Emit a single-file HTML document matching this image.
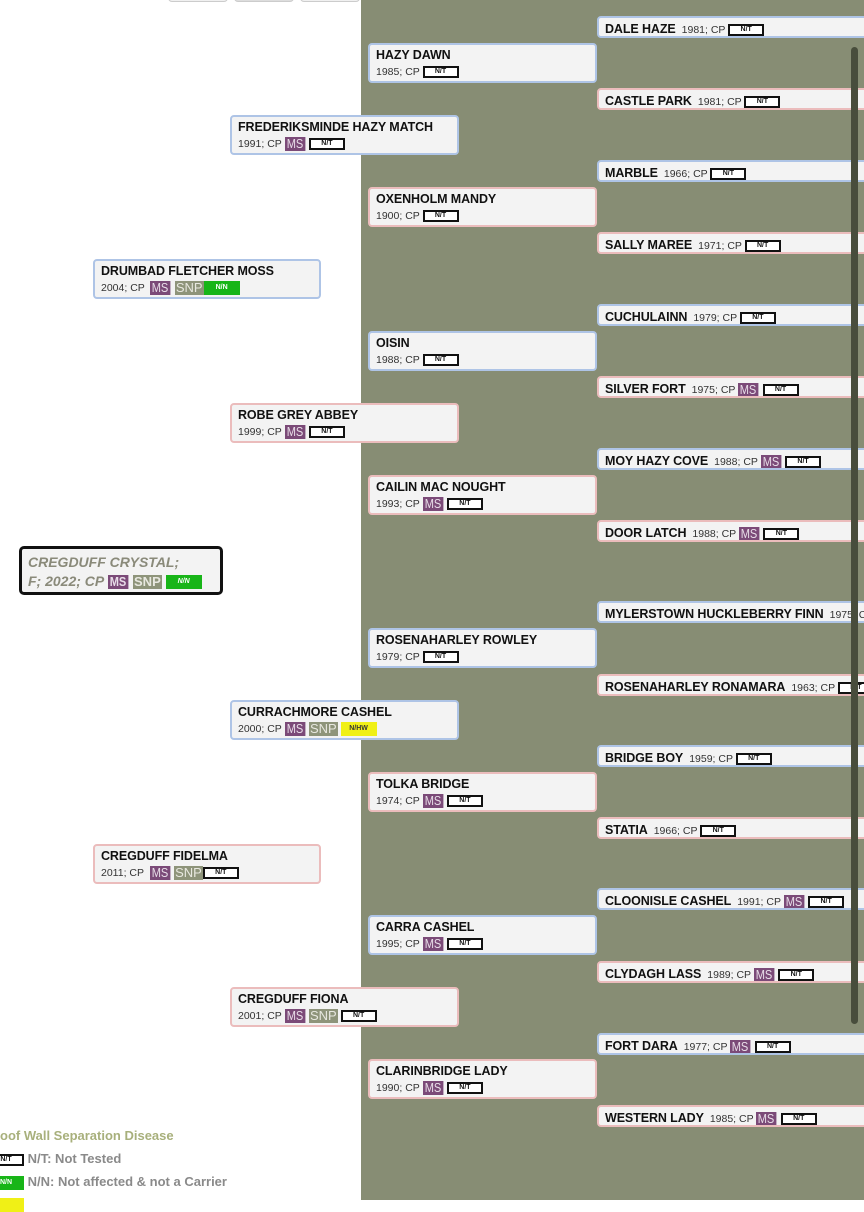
<!DOCTYPE html>
<html><head><meta charset="utf-8"><style>
*{box-sizing:border-box;margin:0;padding:0}
body{width:864px;height:1200px;overflow:hidden;background:#fff;position:relative;font-family:"Liberation Sans",sans-serif;color:#111}
#panel{position:absolute;left:361px;top:0;width:503px;height:1200px;background:#878d74}
.b{position:absolute;background:#f3f3f3;border:2px solid #aec4e6;border-radius:4px;padding:3px 0 0 6px;overflow:hidden;white-space:nowrap}
.f{border-color:#ebbcbc}
.b .n{font-weight:bold;font-size:12.5px;letter-spacing:-0.1px;display:block;line-height:15px}
.b .d{font-size:10.5px;color:#333;display:block;line-height:16px;margin-top:1px}
.s{height:22px;padding:2px 0 0 6px}
.s .n{display:inline;font-size:12.5px}
.s .d{display:inline;margin-left:6px}
.nt{display:inline-block;width:36px;height:12px;border:2px solid #111;background:#fff;font-size:7px;font-weight:bold;text-align:center;line-height:8px;vertical-align:middle;color:#111}
.ms{display:inline-block;background:#7b4a78;color:#e8dde8;font-size:13px;line-height:14px;padding:0 2px;vertical-align:middle;font-family:"Liberation Sans Narrow","Liberation Sans",sans-serif;transform:scaleX(.85);transform-origin:left;margin-right:-2px}
.snp{display:inline-block;background:#8e947a;color:#e8e8e0;font-size:13px;line-height:14px;padding:0 1px;vertical-align:middle;font-family:"Liberation Sans Narrow","Liberation Sans",sans-serif}
.nn{display:inline-block;width:36px;height:14px;background:#18b518;color:#fff;font-size:7px;font-weight:bold;text-align:center;line-height:14px;vertical-align:middle}
.hw{display:inline-block;width:36px;height:14px;background:#f0f016;color:#333;font-size:7px;font-weight:bold;text-align:center;line-height:14px;vertical-align:middle}
.btn{position:absolute;top:-8px;width:60px;height:10px;border:1px solid #ccc;border-radius:4px;background:#f0f0f0}
.leg{position:absolute;left:0;font-size:13px;color:#8a8a8a;font-weight:bold;white-space:nowrap}
</style></head><body>
<div id="panel"></div>
<div class="btn" style="left:168px"></div><div class="btn" style="left:234px;background:#ddd"></div><div class="btn" style="left:300px"></div>

<div class="b" style="left:19px;top:546px;width:204px;height:49px;border:3px solid #111;border-radius:5px;padding:4px 0 0 6px">
<span style="display:block;font-style:italic;font-weight:bold;color:#8a8a7a;font-size:14px;line-height:19px">CREGDUFF CRYSTAL;</span>
<span style="display:block;font-style:italic;font-weight:bold;color:#8a8a7a;font-size:14px;line-height:19px">F; 2022; CP <span class="ms" style="font-style:normal">MS</span> <span class="snp" style="font-style:normal">SNP</span> <span class="nn">N/N</span></span></div>

<div class="b" style="left:93px;top:259px;width:228px;height:40px"><span class="n">DRUMBAD FLETCHER MOSS</span><span class="d">2004; CP &nbsp;<span class="ms">MS</span> <span class="snp">SNP</span><span class="nn">N/N</span></span></div>
<div class="b f" style="left:93px;top:844px;width:228px;height:40px"><span class="n">CREGDUFF FIDELMA</span><span class="d">2011; CP &nbsp;<span class="ms">MS</span> <span class="snp">SNP</span><span class="nt">N/T</span></span></div>

<div class="b" style="left:230px;top:115px;width:229px;height:40px"><span class="n">FREDERIKSMINDE HAZY MATCH</span><span class="d">1991; CP <span class="ms">MS</span> <span class="nt">N/T</span></span></div>
<div class="b f" style="left:230px;top:403px;width:229px;height:40px"><span class="n">ROBE GREY ABBEY</span><span class="d">1999; CP <span class="ms">MS</span> <span class="nt">N/T</span></span></div>
<div class="b" style="left:230px;top:700px;width:229px;height:40px"><span class="n">CURRACHMORE CASHEL</span><span class="d">2000; CP <span class="ms">MS</span> <span class="snp">SNP</span> <span class="hw">N/HW</span></span></div>
<div class="b f" style="left:230px;top:987px;width:229px;height:40px"><span class="n">CREGDUFF FIONA</span><span class="d">2001; CP <span class="ms">MS</span> <span class="snp">SNP</span> <span class="nt">N/T</span></span></div>

<div class="b" style="left:368px;top:43px;width:229px;height:40px"><span class="n">HAZY DAWN</span><span class="d">1985; CP <span class="nt">N/T</span></span></div>
<div class="b f" style="left:368px;top:187px;width:229px;height:40px"><span class="n">OXENHOLM MANDY</span><span class="d">1900; CP <span class="nt">N/T</span></span></div>
<div class="b" style="left:368px;top:331px;width:229px;height:40px"><span class="n">OISIN</span><span class="d">1988; CP <span class="nt">N/T</span></span></div>
<div class="b f" style="left:368px;top:475px;width:229px;height:40px"><span class="n">CAILIN MAC NOUGHT</span><span class="d">1993; CP <span class="ms">MS</span> <span class="nt">N/T</span></span></div>
<div class="b" style="left:368px;top:628px;width:229px;height:40px"><span class="n">ROSENAHARLEY ROWLEY</span><span class="d">1979; CP <span class="nt">N/T</span></span></div>
<div class="b f" style="left:368px;top:772px;width:229px;height:40px"><span class="n">TOLKA BRIDGE</span><span class="d">1974; CP <span class="ms">MS</span> <span class="nt">N/T</span></span></div>
<div class="b" style="left:368px;top:915px;width:229px;height:40px"><span class="n">CARRA CASHEL</span><span class="d">1995; CP <span class="ms">MS</span> <span class="nt">N/T</span></span></div>
<div class="b f" style="left:368px;top:1059px;width:229px;height:40px"><span class="n">CLARINBRIDGE LADY</span><span class="d">1990; CP <span class="ms">MS</span> <span class="nt">N/T</span></span></div>

<div class="b s" style="left:597px;top:16px;width:280px"><span class="n">DALE HAZE</span><span class="d">1981; CP <span class="nt">N/T</span></span></div>
<div class="b s f" style="left:597px;top:88px;width:280px"><span class="n">CASTLE PARK</span><span class="d">1981; CP <span class="nt">N/T</span></span></div>
<div class="b s" style="left:597px;top:160px;width:280px"><span class="n">MARBLE</span><span class="d">1966; CP <span class="nt">N/T</span></span></div>
<div class="b s f" style="left:597px;top:232px;width:280px"><span class="n">SALLY MAREE</span><span class="d">1971; CP <span class="nt">N/T</span></span></div>
<div class="b s" style="left:597px;top:304px;width:280px"><span class="n">CUCHULAINN</span><span class="d">1979; CP <span class="nt">N/T</span></span></div>
<div class="b s f" style="left:597px;top:376px;width:280px"><span class="n">SILVER FORT</span><span class="d">1975; CP <span class="ms">MS</span> <span class="nt">N/T</span></span></div>
<div class="b s" style="left:597px;top:448px;width:280px"><span class="n">MOY HAZY COVE</span><span class="d">1988; CP <span class="ms">MS</span> <span class="nt">N/T</span></span></div>
<div class="b s f" style="left:597px;top:520px;width:280px"><span class="n">DOOR LATCH</span><span class="d">1988; CP <span class="ms">MS</span> <span class="nt">N/T</span></span></div>
<div class="b s" style="left:597px;top:601px;width:280px"><span class="n">MYLERSTOWN HUCKLEBERRY FINN</span><span class="d">1975; CP</span></div>
<div class="b s f" style="left:597px;top:674px;width:280px"><span class="n">ROSENAHARLEY RONAMARA</span><span class="d">1963; CP <span class="nt">N/T</span></span></div>
<div class="b s" style="left:597px;top:745px;width:280px"><span class="n">BRIDGE BOY</span><span class="d">1959; CP <span class="nt">N/T</span></span></div>
<div class="b s f" style="left:597px;top:817px;width:280px"><span class="n">STATIA</span><span class="d">1966; CP <span class="nt">N/T</span></span></div>
<div class="b s" style="left:597px;top:888px;width:280px"><span class="n">CLOONISLE CASHEL</span><span class="d">1991; CP <span class="ms">MS</span> <span class="nt">N/T</span></span></div>
<div class="b s f" style="left:597px;top:961px;width:280px"><span class="n">CLYDAGH LASS</span><span class="d">1989; CP <span class="ms">MS</span> <span class="nt">N/T</span></span></div>
<div class="b s" style="left:597px;top:1033px;width:280px"><span class="n">FORT DARA</span><span class="d">1977; CP <span class="ms">MS</span> <span class="nt">N/T</span></span></div>
<div class="b s f" style="left:597px;top:1105px;width:280px"><span class="n">WESTERN LADY</span><span class="d">1985; CP <span class="ms">MS</span> <span class="nt">N/T</span></span></div>

<div style="position:absolute;left:851px;top:47px;width:7px;height:977px;background:#484d3c;border-radius:4px"></div>

<div class="leg" style="top:1128px;color:#a8b07c">oof Wall Separation Disease</div>
<div class="leg" style="top:1151px"><span class="nt" style="margin-left:-12px;width:36px">N/T</span> N/T: Not Tested</div>
<div class="leg" style="top:1174px"><span class="nn" style="margin-left:-12px;width:36px">N/N</span> N/N: Not affected &amp; not a Carrier</div>
<div class="leg" style="top:1196px"><span class="hw" style="margin-left:-12px;width:36px"></span></div>
</body></html>
